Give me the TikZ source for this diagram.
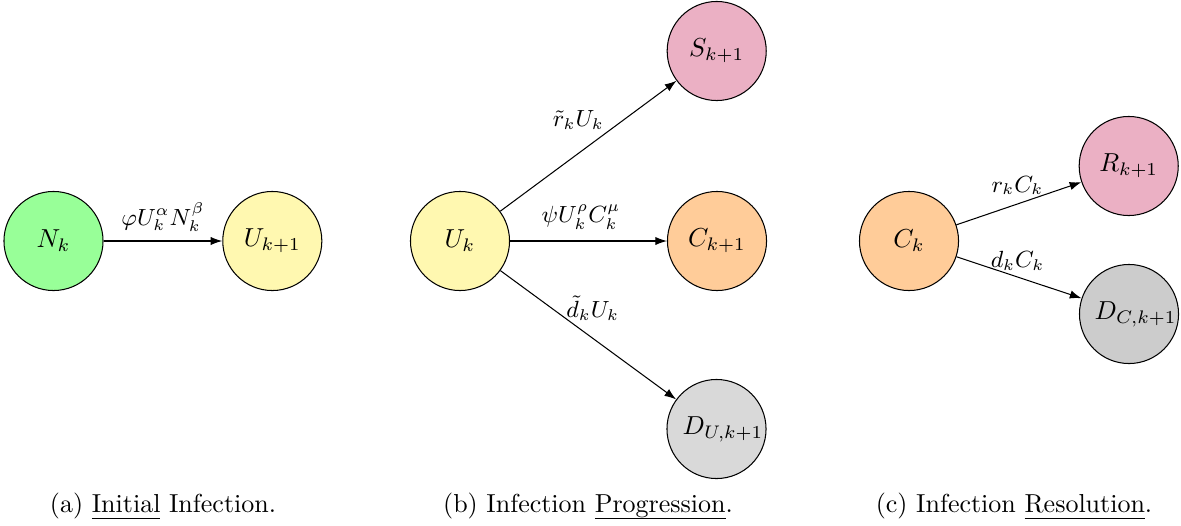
\documentclass[tikz,border=0pt]{standalone}
\usetikzlibrary{arrows.meta}
\definecolor{cgreen}{RGB}{152,255,152}
\definecolor{cyellow}{RGB}{255,248,176}
\definecolor{cpink}{RGB}{235,176,196}
\definecolor{corange}{RGB}{255,204,153}
\definecolor{cgrayA}{RGB}{217,217,217}
\definecolor{cgrayB}{RGB}{204,204,204}
\newcommand{\capul}[1]{\setbox0\hbox{#1}\leavevmode\rlap{\rule[-2.8pt]{\wd0}{0.4pt}}\box0\relax}
\begin{document}
\begin{tikzpicture}[x=0.3846pt,y=-0.3846pt,
  state/.style={circle,draw=black,line width=0.4pt,minimum size=38.1pt,inner sep=0pt},
  flow/.style={-{Latex[length=4.5pt,width=3.2pt]},line width=0.4pt},
  lbl/.style={inner sep=0pt,font=\small},
  captext/.style={anchor=base,inner sep=0pt}]
\useasboundingbox (0,0) rectangle (1181,525);
% (a)
\node[state,fill=cgreen]  (N)  at (53.5,241) {$N_k$};
\node[state,fill=cyellow] (U1) at (272.3,241) {$U_{k+1}$};
\draw[flow] (N) -- node[lbl,midway,shift={(0,-23.5)}] {$\varphi U_k^{\alpha}N_k^{\beta}$} (U1);
% (b)
\node[state,fill=cyellow] (U)  at (460,241) {$U_k$};
\node[state,fill=cpink]   (S)  at (716.7,51) {$S_{k+1}$};
\node[state,fill=corange] (C1) at (717,241) {$C_{k+1}$};
\node[state,fill=cgrayA]  (DU) at (716.5,429) {\makebox[0pt]{\kern5pt$D_{U,k+1}$}};
\draw[flow] (U) -- node[lbl,midway,shift={(-10,-26)}] {$\tilde{r}_kU_k$} (S);
\draw[flow] (U) -- node[lbl,midway,shift={(-7.5,-23.5)}] {$\psi U_k^{\rho}C_k^{\mu}$} (C1);
\draw[flow] (U) -- node[lbl,midway,shift={(4.5,-27)}] {$\tilde{d}_kU_k$} (DU);
% (c)
\node[state,fill=corange] (C)  at (909,241) {$C_k$};
\node[state,fill=cpink]   (R)  at (1128.7,166) {$R_{k+1}$};
\node[state,fill=cgrayB]  (DC) at (1129,314) {\makebox[0pt]{\kern5pt$D_{C,k+1}$}};
\draw[flow] (C) -- node[lbl,midway,shift={(-1.4,-18)}] {$r_kC_k$} (R);
\draw[flow] (C) -- node[lbl,midway,shift={(-1.5,-17)}] {$d_kC_k$} (DC);
% captions
\node[captext] (capa) at (163,512) {(a) \capul{Initial} Infection.};
\node[captext] (capb) at (588,512) {(b) Infection \capul{Progression}.};
\node[captext] (capc) at (1014,512) {(c) Infection \capul{Resolution}.};
\end{tikzpicture}
\end{document}
